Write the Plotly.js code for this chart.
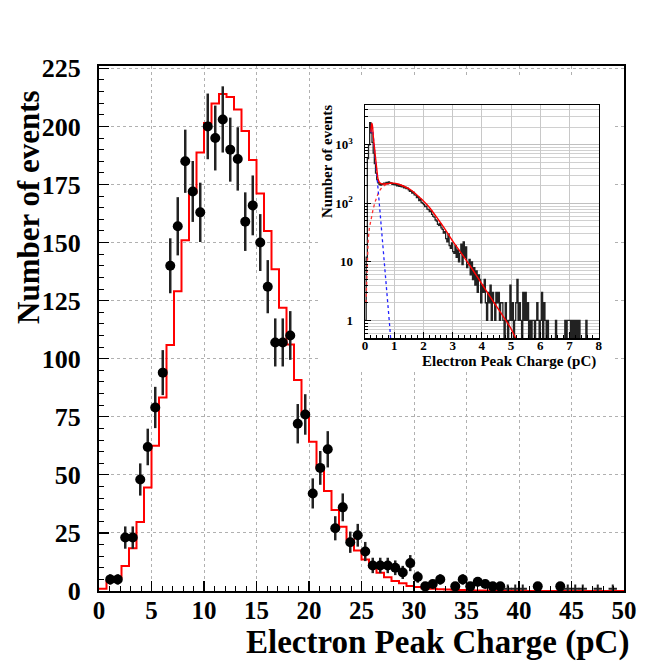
<!DOCTYPE html>
<html>
<head>
<meta charset="utf-8">
<script src="https://cdn.plot.ly/plotly-3.0.1.min.js"></script>
<style>html,body{margin:0;padding:0;background:#fff;}#chart{width:664px;height:664px;}</style>
</head>
<body>
<div id="chart"></div>
<script>
// ---------------- main histogram data (70 bins, 0-50 pC) ----------------
const mainRange = [0, 50];
const mainBinCount = 70;
const dataCounts = [0,5,5,23,23,48,62,79,94,140,157,185,172,163,200,195,203,190,186,159,
  166,150,131,107,107,110,72,76,42,53,61,27,36,21,24,17,11,11,11,10,
  8,12,6,2,3,5,0,2,5,2,4,3,2,2,0,0,0,0,2,0,
  0,2,0,0,0,0,0,0,0,0];
const lowBins = [54,55,56,62,63,64,66,68];
const lowValues = [1,1,1,1,1,1,1,1];
const mcCounts = [1,4.3,5.7,10.8,18.4,29.7,44.6,62.5,83.3,105.9,129,151,171.4,188.8,201.5,209.9,213.9,212.7,207.3,198,
  185.5,171.1,155,138.5,121.9,106.1,90.8,76.7,64.2,52.8,43,34.9,27.7,22.2,17.4,13.6,10.5,7.9,5.9,4.3,
  3.3,2.2,1.7,1.2,1.0,0.8,0.6,0.5,0.4,0.3,0.25,0.2,0.15,0.1,0.1,0.08,0.06,0.05,0.04,0.03,
  0.03,0.02,0.02,0.02,0.01,0.01,0.01,0.01,0.01,0.01];
const mainXTicks = [0,5,10,15,20,25,30,35,40,45,50];
const mainYTicks = [0,25,50,75,100,125,150,175,200,225];

// ---------------- inset data (log scale, 0-8 pC, bin 0.04) ----------------
const insetRange = [0, 8];
const insetBinWidth = 0.04;
const insetCounts = [1,12,580,1000,2400,1600,1100,720,480,330,
  255,225,212,205,210,215,222,218,228,215,
  232,220,225,212,218,208,215,200,210,196,
  205,192,198,185,190,178,182,170,160,165,
  150,155,140,138,125,130,112,118,104,100,
  95,88,90,80,78,72,74,65,60,58,
  52,50,44,42,45,38,36,31,33,25,
  22,30,19,17,21,15,14,19,12,16,
  10,14,20,9,22,12,18,8,9,11,
  6,10,5,8,4,7,3,6,5,2,
  4,3,5,2,1,3,2,4,1,3,
  2,1,3,2,3,1,2,2,1,0,
  2,1,0,1,4,1,2,0,1,2,
  5,1,2,1,0,3,1,3,1,2,
  0,1,0,1,1,0,1,2,1,0,
  1,3,0,2,1,0,1,0,0,0,
  0,0,0,1,0,0,0,0,0,0,
  0,1,0,1,1,1,0,1,0,1,
  0,1,0,1,0,0,0,0,0,1,
  0,0,0,0,0,0,0,0,0,0];
const fitQ =   [0.205,0.23,0.25,0.29,0.342,0.40,0.457,0.514,0.571,0.65,0.742,0.85,0.97,1.15,1.31,1.5,1.65,1.88,2.0,2.2,2.45,2.68,3.02,3.3,3.6,3.9,4.17,4.45,4.74,5.0,5.14,5.2];
const fitVal = [1650,2350,2200,1300,745,400,250,222,215,214,216,220,222,212,198,178,158,125,110,86,58,40,22,14,8.5,5.0,3.1,1.9,1.15,0.72,0.52,0.47];
const pedQ =   [0.205,0.23,0.25,0.29,0.342,0.40,0.457,0.514,0.571,0.628,0.685,0.74,0.8,0.85,0.88];
const pedVal = [1630,2350,2150,1200,610,320,155,75,34,15.5,7.1,3.3,1.48,0.75,0.47];
const sigQ =   [0.034,0.06,0.08,0.11,0.15,0.19,0.228,0.28,0.342,0.40,0.457,0.514,0.571,0.65,0.742,0.85,0.97];
const sigVal = [2,6,12,24,38,50,62,80,105,130,150,168,185,200,212,219,222];
const insetYTickVals = [1,10,100,1000];
const insetYTickText = ['1','10','10<sup>2</sup>','10<sup>3</sup>'];

// ---------------- build traces ----------------
const binW = (mainRange[1]-mainRange[0]) / mainBinCount;
const dataIdx = dataCounts.map((c,i)=>i).filter(i=>dataCounts[i]>0);
const dataTrace = {
  x: dataIdx.map(i=>mainRange[0]+(i+0.5)*binW),
  y: dataIdx.map(i=>dataCounts[i]),
  error_y: {type:'data', array: dataIdx.map(i=>Math.sqrt(dataCounts[i])), color:'#222', thickness:2.5, width:0},
  mode:'markers', type:'scatter', marker:{color:'black', size:10, symbol:'circle'},
  xaxis:'x', yaxis:'y', hoverinfo:'skip', cliponaxis:true
};
const lowTrace = {
  x: lowBins.map(i=>mainRange[0]+(i+0.5)*binW), y: lowValues,
  mode:'markers', type:'scatter',
  marker:{symbol:'cross-thin', size:6, line:{width:2, color:'#222'}, color:'#222'},
  xaxis:'x', yaxis:'y', hoverinfo:'skip'
};
const mcX = mcCounts.map((c,i)=>mainRange[0]+i*binW).concat([mainRange[1]]);
const mcY = mcCounts.concat([mcCounts[mcCounts.length-1]]);
const mcTrace = {x: mcX, y: mcY, mode:'lines', type:'scatter', line:{shape:'hv', color:'#ff0000', width:2}, xaxis:'x', yaxis:'y', hoverinfo:'skip'};

const insX = insetCounts.map((c,i)=>insetRange[0]+i*insetBinWidth).concat([insetRange[0]+insetCounts.length*insetBinWidth]);
const insYraw = insetCounts.concat([insetCounts[insetCounts.length-1]]);
const insY = insYraw.map(v=> v>0 ? v : 0.05);
const insHist = {x: insX, y: insY, mode:'lines', type:'scatter', line:{shape:'hv', color:'#222', width:1.3}, xaxis:'x2', yaxis:'y2', hoverinfo:'skip'};
const sigTrace = {x: sigQ, y: sigVal, mode:'lines', type:'scatter', line:{color:'#ff3030', width:1.3, dash:'dot'}, xaxis:'x2', yaxis:'y2', hoverinfo:'skip'};
const pedTrace = {x: pedQ, y: pedVal, mode:'lines', type:'scatter', line:{color:'#2020ff', width:1.3, dash:'dot'}, xaxis:'x2', yaxis:'y2', hoverinfo:'skip'};
const fitTrace = {x: fitQ, y: fitVal, mode:'lines', type:'scatter', line:{color:'#ff0000', width:1.4, shape:'spline'}, xaxis:'x2', yaxis:'y2', hoverinfo:'skip'};

// minor gridline positions for log inset axis (2..9 x decade)
const logMinor = [];
[0.1,1,10,100,1000].forEach(d=>{for(let k=2;k<=9;k++){logMinor.push(k*d);}});

const serif = 'Liberation Serif, Times New Roman, serif';
const W = 664, H = 664, L = 99, R = 40, T = 66, B = 73;
const pw = W-L-R, ph = H-T-B;
const px = v => (v-L)/pw;           // pixel -> paper x
const py = v => (H-B-v)/ph;         // pixel -> paper y

const layout = {
  width: W, height: H,
  margin: {l:L, r:R, t:T, b:B, pad:0},
  paper_bgcolor:'white', plot_bgcolor:'white',
  showlegend:false,
  font:{family:serif, color:'black'},
  xaxis: {
    range: mainRange, tickmode:'array', tickvals: mainXTicks,
    ticks:'inside', ticklen:10, tickwidth:1.2, tickcolor:'black',
    showline:true, linecolor:'black', linewidth:2, mirror:true,
    showgrid:true, gridcolor:'#b0b0b0', griddash:'dot', gridwidth:1,
    zeroline:false,
    minor:{ticks:'inside', ticklen:5, dtick:1, tick0:0, tickcolor:'black', tickwidth:1, showgrid:false},
    tickfont:{family:serif, size:25, weight:700, color:'black'},
    ticklabelstandoff: -4
  },
  yaxis: {
    range:[0,226], tickmode:'array', tickvals: mainYTicks,
    ticks:'inside', ticklen:10, tickwidth:1.2, tickcolor:'black',
    showline:true, linecolor:'black', linewidth:2, mirror:true,
    showgrid:true, gridcolor:'#b0b0b0', griddash:'dot', gridwidth:1,
    zeroline:false,
    minor:{ticks:'inside', ticklen:5, dtick:5, tick0:0, tickcolor:'black', tickwidth:1, showgrid:false},
    tickfont:{family:serif, size:26, weight:700, color:'black'},
    ticklabelstandoff: 11
  },
  xaxis2: {
    domain:[px(365), px(598.7)], anchor:'y2', range: insetRange,
    tickmode:'array', tickvals:[0,1,2,3,4,5,6,7,8],
    ticks:'inside', ticklen:6, tickcolor:'black',
    showline:true, linecolor:'black', linewidth:1.5, mirror:true,
    showgrid:true, gridcolor:'#c8c8c8', gridwidth:1, zeroline:false,
    minor:{ticks:'inside', ticklen:3, dtick:0.2, tick0:0, tickcolor:'black', showgrid:false},
    tickfont:{family:serif, size:13, weight:700, color:'black'},
    ticklabelstandoff: -5
  },
  yaxis2: {
    domain:[py(338), py(105)], anchor:'x2', type:'log', range:[Math.log10(0.5), Math.log10(4800)],
    tickmode:'array', tickvals: insetYTickVals, ticktext: insetYTickText,
    ticks:'inside', ticklen:6, tickcolor:'black',
    showline:true, linecolor:'black', linewidth:1.5, mirror:true,
    showgrid:true, gridcolor:'#c0c0c0', gridwidth:1, zeroline:false,
    minor:{tickmode:'array', tickvals: logMinor, ticks:'inside', ticklen:3, tickcolor:'black', showgrid:true, gridcolor:'#d0d0d0', gridwidth:1},
    tickfont:{family:serif, size:13, weight:700, color:'black'},
    ticklabelstandoff: 8
  },
  shapes: [
    {type:'rect', xref:'x', yref:'y', x0:20.9, x1:48.9, y0:95, y1:222, fillcolor:'white', line:{width:0}, layer:'between'}
  ],
  annotations: [
    {text:'Electron Peak Charge (pC)', xref:'paper', yref:'paper', x:px(631), y:py(642), xanchor:'right', yanchor:'middle', showarrow:false,
     font:{family:serif, size:33, weight:700, color:'black'}},
    {text:'Number of events', xref:'paper', yref:'paper', x:px(28), y:py(207), xanchor:'center', yanchor:'middle', textangle:-90, showarrow:false,
     font:{family:serif, size:31, weight:700, color:'black'}},
    {text:'Electron Peak Charge (pC)', xref:'paper', yref:'paper', x:px(598), y:py(361), xanchor:'right', yanchor:'middle', showarrow:false,
     font:{family:serif, size:15, weight:700, color:'black'}},
    {text:'Number of events', xref:'paper', yref:'paper', x:px(327), y:py(162), xanchor:'center', yanchor:'middle', textangle:-90, showarrow:false,
     font:{family:serif, size:15, weight:700, color:'black'}}
  ]
};

Plotly.newPlot('chart', [mcTrace, dataTrace, lowTrace, insHist, sigTrace, pedTrace, fitTrace], layout, {staticPlot:true, displayModeBar:false});
</script>
</body>
</html>
